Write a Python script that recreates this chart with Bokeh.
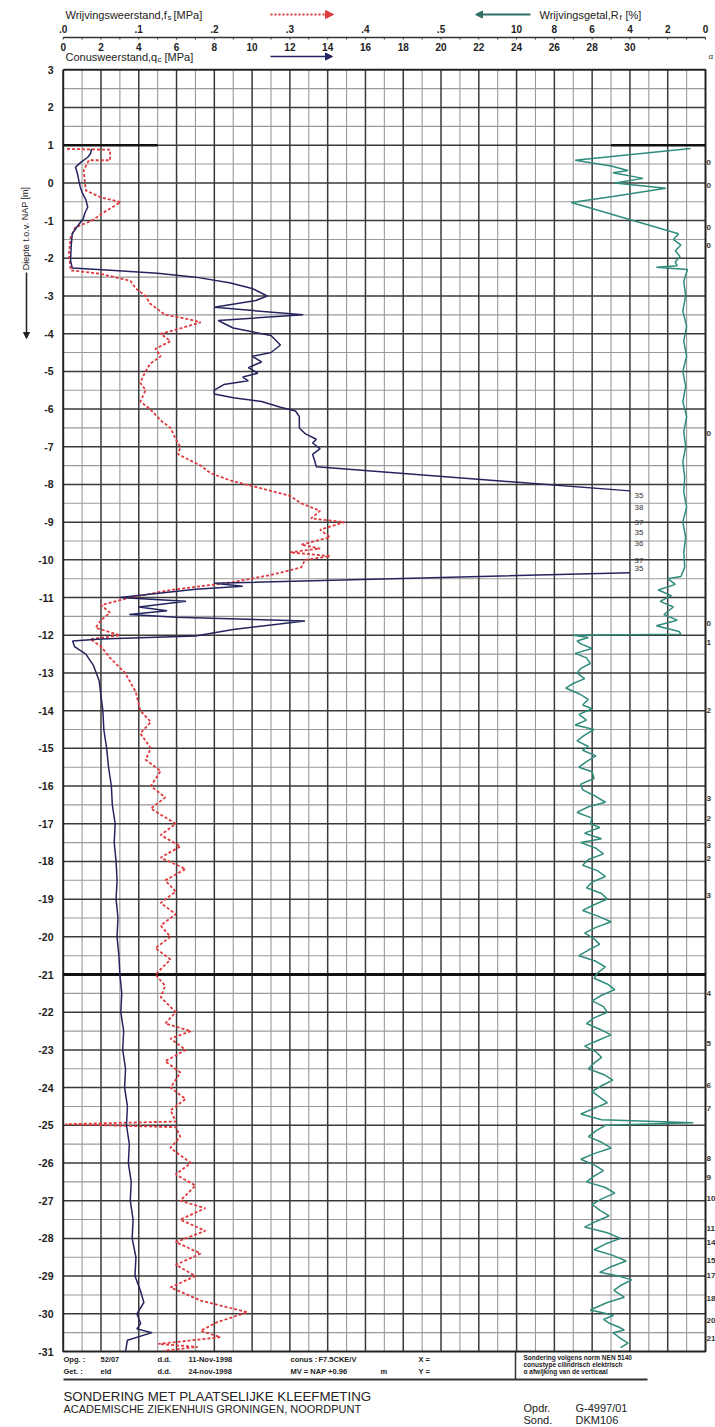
from bokeh.plotting import figure
from bokeh.models import Range1d, Arrow, NormalHead
from bokeh.embed import file_html
from bokeh.resources import INLINE
from bokeh.core.properties import value

NaN = float("nan")

# ---------------- data ----------------
depth_ticks = list(range(3, -32, -1))
qc_ticks = list(range(0, 31, 2))
fs_ticks = [0.0, 0.1, 0.2, 0.3, 0.4, 0.5]
fs_tick_labels = [".0", ".1", ".2", ".3", ".4", ".5"]
rf_ticks = [10, 8, 6, 4, 2, 0]

qc_depth = [0.90, 0.78, 0.68, 0.55, 0.42, 0.25, 0.06, -0.10, -0.25, -0.45, -0.64, -0.80, -0.95,
            -1.15, -1.35, -1.70, -2.06, -2.26, -2.32, -2.40, -2.50, -2.65, -2.80, -3.00, -3.12,
            -3.30, -3.50, -3.65, -3.85, -4.05, -4.30, -4.50, -4.60, -4.75, -4.90, -5.05, -5.15,
            -5.25, -5.35, -5.50, -5.60, -5.70, -5.80, -5.95, -6.05, -6.20, -6.50, -6.65, -6.80,
            -6.90, -7.05, -7.20, -7.35, -7.53, -8.17, NaN,
            -10.34, -10.62, -10.70, -10.78, -11.00, -11.10, -11.25, -11.35, -11.45, -11.52,
            -11.62, -11.85, -12.02, -12.10, -12.15, -12.30, -12.50, -12.80, -13.2, -13.6, -14.0,
            -14.5, -15.0, -15.5, -16.0, -16.5, -17.0, -17.5, -18.0, -18.5, -19.0, -19.5, -20.0,
            -20.5, -21.0, -21.5, -22.0, -22.5, -23.0, -23.5, -24.0, -24.5, -25.0, -25.5, -26.0,
            -26.5, -27.0, -27.5, -28.0, -28.5, -29.0, -29.4, -29.7, -30.0, -30.26, -30.4, -30.5,
            -30.7, -31.0]
qc_mpa = [1.50, 1.45, 1.30, 0.95, 0.65, 0.75, 0.83, 0.90, 1.00, 1.20, 1.30, 1.15, 1.06,
          0.75, 0.48, 0.42, 0.39, 0.48, 2.5, 5.0, 7.0, 8.8, 10.0, 10.8, 10.2,
          8.0, 12.7, 8.2, 9.0, 11.0, 11.5, 11.0, 10.0, 10.5, 9.8, 10.3, 9.5,
          9.8, 8.5, 8.0, 8.0, 9.0, 10.5, 11.5, 12.3, 12.5, 12.5, 12.8, 13.4,
          13.2, 13.6, 13.2, 13.3, 13.4, 30.0, NaN,
          30.0, 8.0, 9.5, 7.0, 3.0, 6.5, 4.0, 5.5, 3.5, 6.0,
          12.8, 9.0, 7.0, 2.0, 0.5, 0.6, 1.2, 1.6, 1.9, 2.0, 2.1,
          2.15, 2.3, 2.4, 2.55, 2.6, 2.75, 2.7, 2.8, 2.85, 2.8, 2.9, 2.85,
          2.95, 3.0, 3.1, 3.05, 3.2, 3.15, 3.3, 3.25, 3.4, 3.35, 3.5, 3.45,
          3.6, 3.55, 3.7, 3.65, 3.85, 3.8, 4.1, 4.27, 3.9, 4.1, 3.9, 4.7,
          3.4, 3.3]

# values beyond the 30 MPa scale
over_depth = [-8.29, -8.60, -9.00, -9.27, -9.57, -10.01, -10.24]
over_qc = ["35", "38", "37", "35", "36", "37", "35"]

fs_depth = [0.90, 0.88, 0.60, 0.60, 0.33, -0.20, -0.38, -0.51, -0.78, -1.00, -1.18, -1.44, -1.88,
            -2.32, -2.41, -2.60, -2.80, -3.00, -3.20, -3.50, -3.60, -3.70, -3.90, -4.00, -4.20,
            -4.40, -4.60, -4.80, -5.00, -5.30, -5.50, -5.80, -6.00, -6.30, -6.50, -6.80, -7.00,
            -7.20, -7.50, -7.70, -7.90, -8.10, -8.30, -8.50, -8.70, -8.90, -9.00, -9.20, -9.40,
            -9.60, -9.70, -9.80, -9.90, -10.00, -10.20, -10.40, -10.60, -10.80, -11.00, -11.20,
            -11.40, -11.60, -11.80, -12.00, -12.10, -12.30, -12.60, -13.0, -13.5, -14.0, -14.3,
            -14.6, -15.0, -15.3, -15.6, -16.0, -16.3, -16.6, -17.0, -17.3, -17.6, -17.9, -18.2,
            -18.5, -18.8, -19.1, -19.4, -19.7, -20.0, -20.3, -20.6, -21.0, -21.3, -21.6, -22.0,
            -22.3, -22.5, -22.7, -23.0, -23.3, -23.6, -24.0, -24.3, -24.6, -24.9, -24.97, -25.05,
            -25.3, -25.6, -26.0, -26.3, -26.6, -27.0, -27.2, -27.5, -27.8, -28.1, -28.4, -28.7,
            -29.0, -29.3, -29.65, -29.96, -30.22, -30.45, -30.62, -30.80, -30.88, -30.98]
fs_mpa = [0.005, 0.062, 0.062, 0.034, 0.027, 0.030, 0.049, 0.076, 0.054, 0.038, 0.016, 0.010, 0.0075,
          0.010, 0.049, 0.089, 0.096, 0.109, 0.115, 0.135, 0.162, 0.182, 0.148, 0.129, 0.142,
          0.122, 0.129, 0.115, 0.109, 0.102, 0.109, 0.102, 0.115, 0.129, 0.142, 0.149, 0.155,
          0.152, 0.182, 0.195, 0.222, 0.261, 0.300, 0.315, 0.340, 0.328, 0.372, 0.340, 0.353,
          0.315, 0.340, 0.300, 0.353, 0.320, 0.315, 0.275, 0.222, 0.142, 0.089, 0.050,
          0.062, 0.050, 0.043, 0.075, 0.036, 0.050, 0.062, 0.082, 0.096, 0.102, 0.116,
          0.102, 0.116, 0.109, 0.129, 0.116, 0.135, 0.116, 0.149, 0.129, 0.155, 0.129, 0.162,
          0.135, 0.149, 0.129, 0.149, 0.129, 0.142, 0.122, 0.142, 0.122, 0.135, 0.129, 0.149,
          0.135, 0.169, 0.142, 0.162, 0.135, 0.155, 0.142, 0.162, 0.142, 0.149, 0.003, 0.149,
          0.155, 0.142, 0.169, 0.149, 0.175, 0.155, 0.188, 0.155, 0.188, 0.149, 0.182, 0.149,
          0.175, 0.142, 0.182, 0.244, 0.204, 0.182, 0.208, 0.126, 0.178, 0.133]

rf_depth = [0.91, 0.60, 0.45, 0.33, 0.27, 0.12, 0.00, -0.14, -0.36, -0.52, -1.35, -1.50, -1.65,
            -1.80, -1.95, -2.10, -2.20, -2.24, -2.30, -2.6, -3.0, -3.4, -3.8, -4.2, -4.6, -5.0,
            -5.4, -5.8, -6.2, -6.6, -7.0, -7.4, -7.8, -8.2, -8.6, -9.0, -9.4, -9.8, -10.2,
            -10.44, -10.50, -10.65, -10.80, -10.95, -11.10, -11.25, -11.45, -11.60, -11.75,
            -11.90, -11.97, -12.00,
            -12.06, -12.15, -12.23, -12.35, -12.48, -12.6, -12.75, -12.88, -13.0, -13.15, -13.28,
            -13.4, -13.55, -13.7, -13.85, -13.95, -14.1, -14.25, -14.38, -14.5, -14.65, -14.8,
            -14.95, -15.05, -15.2, -15.35, -15.5, -15.62, -15.8, -15.95, -16.1, -16.25, -16.43,
            -16.55, -16.7, -16.85, -17.0, -17.1, -17.25, -17.4, -17.5, -17.65, -17.8, -17.95,
            -18.1, -18.25, -18.4, -18.55, -18.7, -18.85, -19.0, -19.15, -19.3, -19.45, -19.6,
            -19.75, -19.9, -20.05, -20.2, -20.35, -20.5, -20.65, -20.8, -20.95, -21.1, -21.25,
            -21.4, -21.55, -21.7, -21.85, -22.0, -22.15, -22.3, -22.45, -22.6, -22.75, -22.9,
            -23.05, -23.2, -23.35, -23.5, -23.65, -23.8, -23.95, -24.1, -24.25, -24.4, -24.55,
            -24.7, -24.85, -24.93, -25.0, -25.15, -25.3, -25.45, -25.6, -25.75, -25.9, -26.05,
            -26.2, -26.35, -26.5, -26.65, -26.8, -26.95, -27.1, -27.25, -27.4, -27.55, -27.7,
            -27.85, -28.0, -28.15, -28.3, -28.45, -28.6, -28.75, -28.9, -29.0, -29.1, -29.25,
            -29.38, -29.56, -29.7, -29.9, -30.04, -30.15, -30.25, -30.35, -30.43, -30.5, -30.65,
            -30.78, -30.9]
rf_pct = [0.79, 6.9, 5.0, 4.1, 4.9, 3.3, 4.8, 2.1, 4.9, 7.1, 1.43, 1.7, 1.3,
          1.6, 1.35, 1.6, 1.5, 2.6, 0.95, 1.15, 1.05, 1.2, 1.0, 1.15, 1.0, 1.2,
          1.05, 1.2, 1.0, 1.15, 1.05, 1.2, 1.1, 1.15, 1.0, 1.2, 1.05, 1.15, 1.1,
          1.3, 2.0, 1.6, 2.5, 1.8, 2.4, 1.7, 2.2, 1.5, 2.6,
          1.4, 1.3, 7.0,
          6.2, 6.8, 6.6, 6.0, 6.9, 6.3, 6.1, 6.6, 6.8, 6.4, 7.0,
          7.4, 6.7, 6.2, 6.5, 6.0, 6.7, 6.3, 6.9, 5.9, 6.4, 6.8,
          6.2, 6.5, 5.8, 6.3, 6.7, 6.0, 5.9, 6.6, 6.5, 5.9, 5.3,
          6.2, 6.8, 6.0, 6.1, 5.6, 6.4, 5.5, 6.6, 5.8, 5.4, 6.2,
          6.5, 5.7, 5.3, 6.0, 6.3, 5.5, 5.2, 5.9, 6.5, 5.7, 5.0,
          5.8, 6.4, 5.9, 5.6, 6.2, 6.7, 5.8, 5.3, 5.7, 5.9, 5.2,
          4.8, 5.5, 6.0, 5.4, 5.2, 5.9, 6.3, 5.6, 5.0, 5.7, 6.4,
          5.8, 5.5, 5.9, 6.2, 5.4, 4.9, 5.5, 6.0, 5.6, 5.2, 5.9,
          6.6, 5.5, 0.65, 5.3, 5.8, 6.2, 5.5, 5.0, 5.9, 6.6, 5.9,
          5.4, 5.9, 6.3, 5.3, 4.8, 5.5, 6.0, 5.6, 5.1, 5.8, 6.4,
          5.2, 4.5, 5.3, 5.9, 4.9, 4.2, 5.0, 5.6, 4.6, 3.9, 4.5,
          4.85, 4.3, 5.2, 6.1, 4.86, 5.4, 5.1, 4.6, 4.3, 4.9, 4.5,
          4.1, 4.5]

side_depth = [0.54, -0.07, -1.18, -1.66, -6.65, -11.68, -12.2, -13.99, -16.33, -16.86, -17.57,
              -17.92, -18.9, -21.5, -22.83, -23.94, -24.55, -25.88, -26.38, -26.94, -27.73,
              -28.1, -28.58, -28.98, -29.6, -30.17, -30.65]
side_text = ["0", "0", "0", "0", "0", "0", "1", "2", "3", "2", "3",
             "2", "3", "4", "5", "6", "7", "8", "9", "10", "11",
             "14", "15", "17", "18", "20", "21"]

# ---------------- layout constants ----------------
W, H, OFF = 715, 1427, 0
X_QC0 = 62.7            # page x of qc = 0
PX_MPA = 642.3 / 34.0   # px per MPa
Y_D3 = 69.3             # page y of depth +3 m
PX_M = 1281.7 / 34.0    # px per metre
QC_MAX = 34.0
FS_FACTOR = 40.0


def X(sx):
    return (sx - X_QC0) / PX_MPA


def Y(sy):
    return 3.0 - (sy - Y_D3) / PX_M


p = figure(width=W, height=H, output_backend="svg", toolbar_location=None,
           x_range=Range1d(X(OFF), X(OFF + W)), y_range=Range1d(Y(OFF + H), Y(OFF)),
           x_axis_location=None, y_axis_location=None, min_border=0)
p.grid.visible = False
p.outline_line_color = None
p.background_fill_color = "white"
p.border_fill_color = "white"
p.extra_x_ranges = {
    "fs": Range1d(X(OFF) / FS_FACTOR, X(OFF + W) / FS_FACTOR),
    "rf": Range1d(QC_MAX - X(OFF), QC_MAX - X(OFF + W)),
}

FONT = value("Liberation Sans")
TOP, BOT = 3.0, -31.0

# ---------------- grid ----------------
vx = list(range(0, int(QC_MAX) + 1))
thin_x = [v for v in vx if v % 2 == 1]
thick_x = [v for v in vx if v % 2 == 0 and 0 < v < QC_MAX]
half_y = [TOP - 0.5 - i for i in range(34)]
full_y = [TOP - i for i in range(1, 34)]

p.segment(x0=thin_x, y0=[TOP] * len(thin_x), x1=thin_x, y1=[BOT] * len(thin_x),
          line_color="#9a9a9a", line_width=1.1)
p.segment(x0=[0] * len(half_y), y0=half_y, x1=[QC_MAX] * len(half_y), y1=half_y,
          line_color="#9a9a9a", line_width=1.1)
p.segment(x0=thick_x, y0=[TOP] * len(thick_x), x1=thick_x, y1=[BOT] * len(thick_x),
          line_color="#3a3a3a", line_width=1.5)
p.segment(x0=[0] * len(full_y), y0=full_y, x1=[QC_MAX] * len(full_y), y1=full_y,
          line_color="#3a3a3a", line_width=1.5)
# frame
p.line(x=[0, QC_MAX, QC_MAX, 0, 0], y=[TOP, TOP, BOT, BOT, TOP], line_color="#222222", line_width=2)
# heavy marker lines
p.segment(x0=[0], y0=[-21], x1=[QC_MAX], y1=[-21], line_color="#111111", line_width=3)
p.segment(x0=[0, QC_MAX - 5], y0=[1, 1], x1=[5, QC_MAX], y1=[1, 1], line_color="#111111", line_width=2.5)

# ---------------- data curves ----------------
p.line(x=rf_pct, y=rf_depth, x_range_name="rf", line_color="#2f8c7c", line_width=1.5)
p.line(x=fs_mpa, y=fs_depth, x_range_name="fs", line_color="#e0393e", line_width=1.8,
       line_dash="3 2")
p.line(x=qc_mpa, y=qc_depth, line_color="#24245f", line_width=1.5)

p.text(x=[X(634)] * len(over_depth), y=over_depth, text=over_qc, text_font=FONT,
       text_font_size=value("8px"), text_color="#333333", text_align="left", text_baseline="middle")

p.text(x=[X(706)] * len(side_depth), y=side_depth, text=side_text, text_font=FONT,
       text_font_size=value("8px"), text_font_style="bold", text_color="#333333",
       text_align="left", text_baseline="middle")
p.text(x=[X(708)], y=[Y(56)], text=["\u03b1"], text_font=FONT, text_font_size=value("8px"),
       text_color="#333333", text_align="left", text_baseline="middle")

# ---------------- depth axis ----------------
p.text(x=[X(53)] * len(depth_ticks), y=depth_ticks, text=[str(d) for d in depth_ticks],
       text_font=FONT, text_font_size=value("10.5px"), text_font_style="bold", text_color="#222222",
       text_align="right", text_baseline="middle")
p.text(x=[X(25)], y=[Y(228)], text=["Diepte t.o.v. NAP [m]"], angle=1.5708, text_font=FONT,
       text_font_size=value("9px"), text_color="#222222", text_align="center", text_baseline="middle")
p.add_layout(Arrow(x_start=X(26), y_start=Y(272), x_end=X(26), y_end=Y(338),
                   line_color="#222222", line_width=1.5,
                   end=NormalHead(size=6, fill_color="#222222", line_color="#222222")))

# ---------------- header scales ----------------
Y_TITLE, Y_FSLAB, Y_AXIS, Y_QCLAB, Y_CONUS = Y(14), Y(28), Y(37), Y(46), Y(56)
p.segment(x0=[0], y0=[Y_AXIS], x1=[QC_MAX], y1=[Y_AXIS], line_color="#333333", line_width=1.5)
p.segment(x0=vx, y0=[Y_AXIS] * len(vx), x1=vx, y1=[Y(39)] * len(vx), line_color="#333333", line_width=1)

p.text(x=qc_ticks, y=[Y_QCLAB] * len(qc_ticks), text=[str(v) for v in qc_ticks], text_font=FONT,
       text_font_size=value("10px"), text_font_style="bold", text_color="#222222",
       text_align="center", text_baseline="middle")
p.text(x=fs_ticks, y=[Y_FSLAB] * len(fs_ticks), text=fs_tick_labels, x_range_name="fs",
       text_font=FONT, text_font_size=value("10px"), text_font_style="bold", text_color="#222222",
       text_align="center", text_baseline="middle")
p.text(x=rf_ticks, y=[Y_FSLAB] * len(rf_ticks), text=[str(v) for v in rf_ticks], x_range_name="rf",
       text_font=FONT, text_font_size=value("10px"), text_font_style="bold", text_color="#222222",
       text_align="center", text_baseline="middle")

title_kw = dict(text_font=FONT, text_color="#222222", text_baseline="middle")
p.text(x=[X(65)], y=[Y_TITLE], text=["Wrijvingsweerstand,f"], text_font_size=value("11px"),
       text_align="left", **title_kw)
p.text(x=[X(167)], y=[Y(17)], text=["s"], text_font_size=value("8px"), text_align="left", **title_kw)
p.text(x=[X(173)], y=[Y_TITLE], text=["[MPa]"], text_font_size=value("11px"), text_align="left", **title_kw)

p.text(x=[X(539)], y=[Y_TITLE], text=["Wrijvingsgetal,R"], text_font_size=value("11px"),
       text_align="left", **title_kw)
p.text(x=[X(619)], y=[Y(17)], text=["f"], text_font_size=value("8px"), text_align="left", **title_kw)
p.text(x=[X(625)], y=[Y_TITLE], text=["[%]"], text_font_size=value("11px"), text_align="left", **title_kw)

p.text(x=[X(65)], y=[Y_CONUS], text=["Conusweerstand,q"], text_font_size=value("11px"),
       text_align="left", **title_kw)
p.text(x=[X(157)], y=[Y(59)], text=["c"], text_font_size=value("8px"), text_align="left", **title_kw)
p.text(x=[X(164)], y=[Y_CONUS], text=["[MPa]"], text_font_size=value("11px"), text_align="left", **title_kw)

# legend arrows
p.add_layout(Arrow(x_start=X(270), y_start=Y_TITLE, x_end=X(333), y_end=Y_TITLE,
                   line_color="#e0393e", line_width=2, line_dash="2 2",
                   end=NormalHead(size=8, fill_color="#e0393e", line_color="#e0393e")))
p.add_layout(Arrow(x_start=X(270), y_start=Y_CONUS, x_end=X(332), y_end=Y_CONUS,
                   line_color="#24245f", line_width=1.5,
                   end=NormalHead(size=7, fill_color="#24245f", line_color="#24245f")))
p.add_layout(Arrow(x_start=X(530), y_start=Y_TITLE, x_end=X(475), y_end=Y_TITLE,
                   line_color="#2f6f66", line_width=2,
                   end=NormalHead(size=7, fill_color="#2f6f66", line_color="#2f6f66")))

# ---------------- footer ----------------
foot_kw = dict(text_font=FONT, text_font_size=value("7.5px"), text_font_style="bold",
               text_color="#222222", text_align="left", text_baseline="middle")
row1 = [("Opg. :", 63), ("52/07", 100), ("d.d.", 157), ("11-Nov-1998", 188), ("conus :", 290),
        ("F7.5CKE/V", 318), ("X =", 418)]
row2 = [("Get. :", 63), ("eld", 100), ("d.d.", 157), ("24-nov-1998", 188), ("MV = NAP +0.96", 290),
        ("m", 380), ("Y =", 418)]
p.text(x=[X(sx) for _, sx in row1], y=[Y(1359)] * len(row1), text=[t for t, _ in row1], **foot_kw)
p.text(x=[X(sx) for _, sx in row2], y=[Y(1371)] * len(row2), text=[t for t, _ in row2], **foot_kw)
box_lines = ["Sondering volgens norm NEN 5140", "conustype cilindrisch elektrisch",
             "\u03b1 afwijking van de verticaal"]
p.text(x=[X(523)] * 3, y=[Y(1357), Y(1364), Y(1371)], text=box_lines, text_font=FONT,
       text_font_size=value("6.5px"), text_font_style="bold", text_color="#222222",
       text_align="left", text_baseline="middle")
p.segment(x0=[X(63)], y0=[Y(1379)], x1=[X(647)], y1=[Y(1379)], line_color="#333333", line_width=2)
p.segment(x0=[X(515)], y0=[BOT], x1=[X(515)], y1=[Y(1379)], line_color="#333333", line_width=1.5)

p.text(x=[X(63)], y=[Y(1396)], text=["SONDERING MET PLAATSELIJKE KLEEFMETING"], text_font=FONT,
       text_font_size=value("13.3px"), text_color="#222222", text_align="left", text_baseline="middle")
p.text(x=[X(63)], y=[Y(1408)], text=["ACADEMISCHE ZIEKENHUIS GRONINGEN, NOORDPUNT"], text_font=FONT,
       text_font_size=value("11px"), text_color="#222222", text_align="left", text_baseline="middle")
p.text(x=[X(523), X(575)], y=[Y(1407), Y(1407)], text=["Opdr.", "G-4997/01"], text_font=FONT,
       text_font_size=value("11px"), text_color="#222222", text_align="left", text_baseline="middle")
p.text(x=[X(523), X(575)], y=[Y(1419), Y(1419)], text=["Sond.", "DKM106"], text_font=FONT,
       text_font_size=value("11px"), text_color="#222222", text_align="left", text_baseline="middle")

open("out.html", "w").write(file_html(p, INLINE))
